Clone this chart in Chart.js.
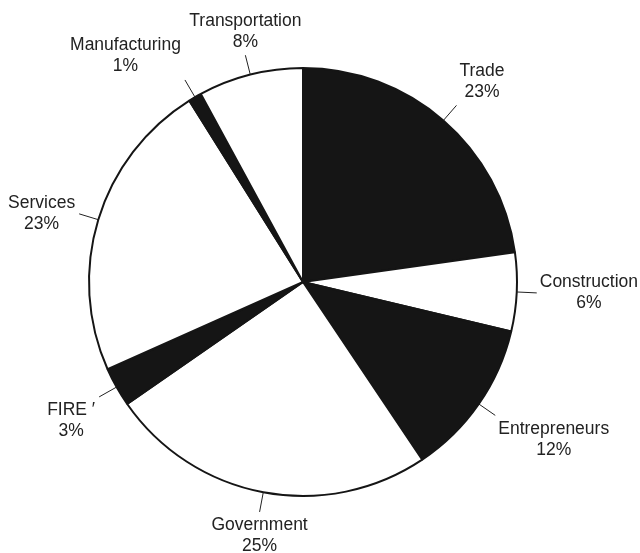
<!DOCTYPE html>
<html>
<head>
<meta charset="utf-8">
<script src="https://cdn.jsdelivr.net/npm/chart.js@4"></script>
<style>
  html, body { margin: 0; padding: 0; background: #fff; }
  #wrap { width: 640px; height: 553px; position: relative; }
</style>
</head>
<body>
<div id="wrap"><canvas id="pie"></canvas></div>
<script>
// employment shares by sector, clockwise from 12 o'clock
const sectors = ["Trade", "Construction", "Entrepreneurs", "Government", "FIRE \u2032", "Services", "Manufacturing", "Transportation"]
const shares = [23, 6, 12, 25, 3, 23, 1, 8]

const INK = "#151515"
const fills = sectors.map((_, i) => i % 2 === 0 ? INK : "#ffffff")

// leader lines + two-line labels outside each slice
const outsideLabels = {
  id: "outsideLabels",
  afterDatasetsDraw(chart) {
    const ctx = chart.ctx
    const arcs = chart.getDatasetMeta(0).data
    ctx.save()
    ctx.font = "17.5px 'Liberation Sans', Arial, sans-serif"
    ctx.fillStyle = "#222"
    ctx.strokeStyle = "#222"
    ctx.lineWidth = 1
    ctx.textBaseline = "middle"
    ctx.textAlign = "center"
    const lineH = 21

    arcs.forEach((arc, i) => {
      const { x, y, startAngle, endAngle, outerRadius } = arc.getProps(["x", "y", "startAngle", "endAngle", "outerRadius"], true)
      const mid = (startAngle + endAngle) / 2
      const dx = Math.cos(mid), dy = Math.sin(mid)
      const r0 = outerRadius, r1 = outerRadius + 20
      const ex = x + dx * r1, ey = y + dy * r1

      ctx.beginPath()
      ctx.moveTo(x + dx * r0, y + dy * r0)
      ctx.lineTo(ex, ey)
      ctx.stroke()

      const lines = [sectors[i], shares[i] + "%"]
      const w = Math.max(...lines.map(t => ctx.measureText(t).width))
      const h = lines.length * lineH

      let cx
      if (dx > 0.4) cx = ex + 3 + w / 2
      else if (dx < -0.4) cx = ex - 4 - w / 2
      else cx = ex
      let top
      if (dy > 0.4) top = ey + 3
      else if (dy < -0.4) top = ey - 3 - h
      else top = ey - h / 2

      lines.forEach((t, k) => ctx.fillText(t, cx, top + lineH * k + lineH / 2))
    })
    ctx.restore()
  }
}

new Chart(document.getElementById("pie"), {
  type: "pie",
  data: {
    labels: sectors,
    datasets: [{
      data: shares,
      backgroundColor: fills,
      borderColor: INK,
      borderWidth: 2
    }]
  },
  options: {
    responsive: true,
    maintainAspectRatio: false,
    animation: false,
    radius: 214,
    layout: { padding: { left: 60, right: 94, top: 40, bottom: 29 } },
    plugins: {
      legend: { display: false },
      tooltip: { enabled: false }
    }
  },
  plugins: [outsideLabels]
})
</script>
</body>
</html>
